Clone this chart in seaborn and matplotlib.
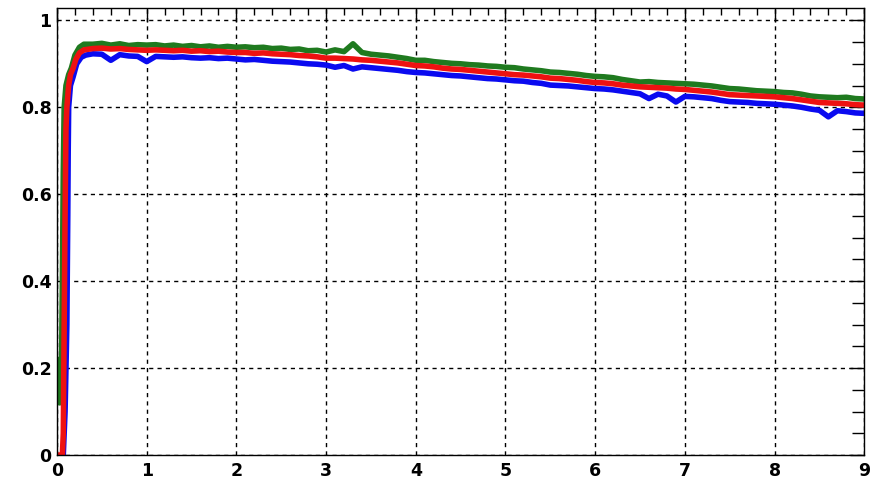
import numpy as np
import pandas as pd
import matplotlib
matplotlib.use("Agg")
import matplotlib.pyplot as plt
import seaborn as sns
from matplotlib.ticker import MultipleLocator

# ---- data ----
rise_red_x = [0.0, 0.06, 0.07, 0.08, 0.09, 0.10, 0.11, 0.13, 0.15, 0.18, 0.21, 0.25, 0.30]
rise_red_y = [0.0, 0.0, 0.05, 0.30, 0.55, 0.75, 0.80, 0.85, 0.875, 0.89, 0.91, 0.925, 0.932]

rise_green_x = [0.01, 0.02, 0.03, 0.04, 0.05, 0.06, 0.07, 0.08, 0.10, 0.13, 0.16, 0.20, 0.25, 0.30]
rise_green_y = [0.15, 0.22, 0.12, 0.18, 0.20, 0.40, 0.65, 0.80, 0.85, 0.875, 0.89, 0.92, 0.938, 0.945]

rise_blue_x = [0.07, 0.09, 0.11, 0.12, 0.125, 0.13, 0.15, 0.18, 0.22, 0.27, 0.32]
rise_blue_y = [0.0, 0.10, 0.30, 0.55, 0.70, 0.80, 0.85, 0.87, 0.90, 0.915, 0.92]

plateau_x = np.round(np.arange(0.4, 9.0001, 0.1), 2)

red_y = [.935, .936, .934, .935, .933, .932, .931,
         .932, .931, .930, .931, .929, .930, .928, .929, .927, .926,
         .926, .924, .925, .923, .922, .921, .919, .918, .916, .913,
         .913, .912, .911, .909, .908, .906, .904, .902, .899, .896,
         .895, .893, .890, .888, .887, .885, .883, .881, .879, .877,
         .875, .874, .872, .870, .867, .866, .864, .862, .859, .857,
         .856, .854, .851, .849, .847, .846, .845, .844, .842, .841,
         .839, .837, .835, .832, .829, .828, .827, .826, .825, .824,
         .822, .820, .817, .814, .811, .810, .809, .808, .806, .805]

green_y = [.945, .947, .943, .946, .942, .944, .943,
           .944, .941, .943, .940, .942, .939, .941, .938, .940, .938,
           .939, .937, .938, .935, .936, .933, .934, .930, .931, .927,
           .932, .928, .946, .926, .922, .920, .918, .915, .912, .908,
           .908, .905, .903, .901, .900, .898, .897, .895, .894, .892,
           .891, .888, .886, .884, .881, .880, .878, .876, .873, .871,
           .870, .868, .864, .861, .858, .859, .857, .856, .855, .854,
           .853, .851, .849, .846, .843, .842, .840, .838, .837, .836,
           .834, .833, .830, .826, .824, .823, .822, .823, .820, .819]

blue_y = [.923, .922, .908, .921, .918, .917, .905,
          .917, .916, .915, .916, .914, .913, .914, .912, .913, .911,
          .909, .910, .908, .906, .905, .904, .902, .900, .899, .897,
          .892, .896, .888, .893, .891, .889, .887, .885, .882, .880,
          .879, .877, .875, .873, .872, .870, .868, .866, .865, .863,
          .861, .860, .857, .855, .851, .850, .849, .847, .845, .843,
          .842, .840, .837, .834, .831, .820, .830, .826, .812, .825,
          .824, .822, .820, .816, .813, .812, .811, .809, .808, .807,
          .805, .803, .800, .796, .793, .778, .792, .790, .787, .786]

x_ticks = [0, 1, 2, 3, 4, 5, 6, 7, 8, 9]
y_ticks = [0, 0.2, 0.4, 0.6, 0.8, 1.0]
y_tick_labels = ["0", "0.2", "0.4", "0.6", "0.8", "1"]

def series(name, rx, ry, py):
    return pd.DataFrame({"x": list(rx) + list(plateau_x),
                         "y": list(ry) + list(py),
                         "series": name})

df = pd.concat([series("green", rise_green_x, rise_green_y, green_y),
                series("blue", rise_blue_x, rise_blue_y, blue_y),
                series("red", rise_red_x, rise_red_y, red_y)], ignore_index=True)

sns.set_style("white")
plt.rcParams["font.family"] = ["DejaVu Sans"]

fig = plt.figure(figsize=(8.81, 4.79), dpi=100)
ax = fig.add_axes([0.0647, 0.050, 0.9163, 0.933])

palette = {"green": "#1f7a1f", "blue": "#0a0af0", "red": "#ee1111"}
sns.lineplot(data=df, x="x", y="y", hue="series", palette=palette,
             hue_order=["green", "blue", "red"], linewidth=4.0,
             estimator=None, sort=False, legend=False, ax=ax)

ax.set_xlim(0, 9)
ax.set_ylim(0, 1.028)
ax.set_xlabel("")
ax.set_ylabel("")

ax.set_xticks(x_ticks)
ax.set_xticklabels([str(t) for t in x_ticks])
ax.set_yticks(y_ticks)
ax.set_yticklabels(y_tick_labels)
ax.xaxis.set_minor_locator(MultipleLocator(0.2))
ax.yaxis.set_minor_locator(MultipleLocator(0.05))

ax.grid(True, which="major", color="black", linestyle=(0, (3, 3)), linewidth=1.0)
ax.set_axisbelow(True)

ax.tick_params(axis="both", which="both", direction="in", top=True, right=True,
               color="black", width=1.0, labelcolor="black")
ax.tick_params(axis="x", which="major", length=10, pad=5, labelsize=12.5)
ax.tick_params(axis="x", which="minor", length=5)
ax.tick_params(axis="y", which="major", length=10, pad=4, labelsize=12.5)
ax.tick_params(axis="y", which="minor", length=9)
for lab in ax.get_xticklabels() + ax.get_yticklabels():
    lab.set_fontweight("bold")
    lab.set_color("black")

for sp in ax.spines.values():
    sp.set_visible(True)
    sp.set_color("black")
    sp.set_linewidth(1.0)

fig.savefig("out.png", dpi=100)
